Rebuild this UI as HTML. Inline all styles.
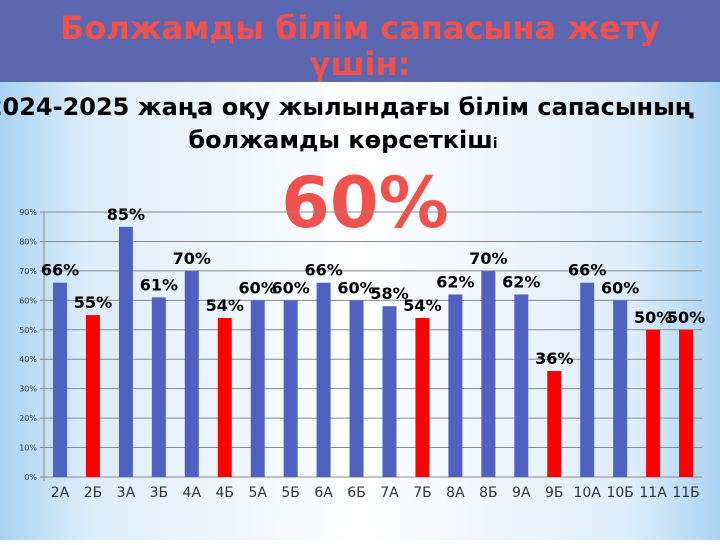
<!DOCTYPE html>
<html><head><meta charset="utf-8"><style>
body{margin:0;width:720px;height:540px;overflow:hidden;}
</style></head><body>
<svg width="720" height="540" xmlns="http://www.w3.org/2000/svg" font-family="DejaVu Sans, Liberation Sans, sans-serif">
<defs>
<linearGradient id="bg" x1="0" x2="1" y1="0" y2="0">
<stop offset="0" stop-color="#a9d3f2"/><stop offset="0.12" stop-color="#dcedfa"/>
<stop offset="0.5" stop-color="#ffffff"/><stop offset="0.88" stop-color="#dcedfa"/><stop offset="1" stop-color="#a9d3f2"/>
</linearGradient>
</defs>
<rect width="720" height="540" fill="url(#bg)"/>
<rect width="720" height="82" fill="#5b68b0"/>
<text x="360" y="39" text-anchor="middle" font-size="32" font-weight="bold" fill="#f0514c">Болжамды білім сапасына жету</text>
<text x="360" y="75" text-anchor="middle" font-size="32" font-weight="bold" fill="#f0514c">үшін:</text>
<text x="340" y="115" text-anchor="middle" font-size="24" font-weight="bold" fill="#000">2024-2025 жаңа оқу жылындағы білім сапасының</text>
<text x="343" y="148" text-anchor="middle" font-size="24" font-weight="bold" fill="#000">болжамды көрсеткіш<tspan font-size="14">і</tspan></text>
<text x="365" y="227" text-anchor="middle" font-size="70" font-weight="bold" fill="#f0514c">60%</text>
<g stroke="#8a8a8a" stroke-width="1">
<line x1="40" x2="702" y1="477" y2="477"/><line x1="40" x2="702" y1="447.56" y2="447.56"/>
<line x1="40" x2="702" y1="418.12" y2="418.12"/><line x1="40" x2="702" y1="388.68" y2="388.68"/>
<line x1="40" x2="702" y1="359.24" y2="359.24"/><line x1="40" x2="702" y1="329.8" y2="329.8"/>
<line x1="40" x2="702" y1="300.36" y2="300.36"/><line x1="40" x2="702" y1="270.92" y2="270.92"/>
<line x1="40" x2="702" y1="241.48" y2="241.48"/><line x1="40" x2="702" y1="212.04" y2="212.04"/>
<line x1="44" x2="44" y1="212" y2="481"/>
</g>
<g font-size="8" fill="#333" text-anchor="end">
<text x="37" y="480">0%</text><text x="37" y="450.5">10%</text><text x="37" y="421">20%</text>
<text x="37" y="391.7">30%</text><text x="37" y="362.2">40%</text><text x="37" y="332.8">50%</text>
<text x="37" y="303.4">60%</text><text x="37" y="273.9">70%</text><text x="37" y="244.5">80%</text>
<text x="37" y="215">90%</text>
</g>
<g>
<rect x="53" y="282.7" width="14" height="194.3" fill="#4f62c2"/>
<rect x="85.95" y="315.1" width="14" height="161.9" fill="#ff0000"/>
<rect x="118.9" y="226.8" width="14" height="250.2" fill="#4f62c2"/>
<rect x="151.85" y="297.4" width="14" height="179.6" fill="#4f62c2"/>
<rect x="184.8" y="270.9" width="14" height="206.1" fill="#4f62c2"/>
<rect x="217.75" y="318" width="14" height="159" fill="#ff0000"/>
<rect x="250.7" y="300.4" width="14" height="176.6" fill="#4f62c2"/>
<rect x="283.65" y="300.4" width="14" height="176.6" fill="#4f62c2"/>
<rect x="316.6" y="282.7" width="14" height="194.3" fill="#4f62c2"/>
<rect x="349.55" y="300.4" width="14" height="176.6" fill="#4f62c2"/>
<rect x="382.5" y="306.2" width="14" height="170.8" fill="#4f62c2"/>
<rect x="415.45" y="318" width="14" height="159" fill="#ff0000"/>
<rect x="448.4" y="294.5" width="14" height="182.5" fill="#4f62c2"/>
<rect x="481.35" y="270.9" width="14" height="206.1" fill="#4f62c2"/>
<rect x="514.3" y="294.5" width="14" height="182.5" fill="#4f62c2"/>
<rect x="547.25" y="371" width="14" height="106" fill="#ff0000"/>
<rect x="580.2" y="282.7" width="14" height="194.3" fill="#4f62c2"/>
<rect x="613.15" y="300.4" width="14" height="176.6" fill="#4f62c2"/>
<rect x="646.1" y="329.8" width="14" height="147.2" fill="#ff0000"/>
<rect x="679.05" y="329.8" width="14" height="147.2" fill="#ff0000"/>
</g>
<g font-size="16" font-weight="bold" fill="#000" text-anchor="middle">
<text x="60" y="275.7">66%</text><text x="92.95" y="308.1">55%</text><text x="125.9" y="219.8">85%</text>
<text x="158.85" y="290.4">61%</text><text x="191.8" y="263.9">70%</text><text x="224.75" y="311">54%</text>
<text x="257.7" y="293.4">60%</text><text x="290.65" y="293.4">60%</text><text x="323.6" y="275.7">66%</text>
<text x="356.55" y="293.4">60%</text><text x="389.5" y="299.2">58%</text><text x="422.45" y="311">54%</text>
<text x="455.4" y="287.5">62%</text><text x="488.35" y="263.9">70%</text><text x="521.3" y="287.5">62%</text>
<text x="554.25" y="364">36%</text><text x="587.2" y="275.7">66%</text><text x="620.15" y="293.4">60%</text>
<text x="653.1" y="322.8">50%</text><text x="686.05" y="322.8">50%</text>
</g>
<g font-size="14" fill="#333" text-anchor="middle">
<text x="60" y="497">2А</text><text x="92.95" y="497">2Б</text><text x="125.9" y="497">3А</text>
<text x="158.85" y="497">3Б</text><text x="191.8" y="497">4А</text><text x="224.75" y="497">4Б</text>
<text x="257.7" y="497">5А</text><text x="290.65" y="497">5Б</text><text x="323.6" y="497">6А</text>
<text x="356.55" y="497">6Б</text><text x="389.5" y="497">7А</text><text x="422.45" y="497">7Б</text>
<text x="455.4" y="497">8А</text><text x="488.35" y="497">8Б</text><text x="521.3" y="497">9А</text>
<text x="554.25" y="497">9Б</text><text x="587.2" y="497">10А</text><text x="620.15" y="497">10Б</text>
<text x="653.1" y="497">11А</text><text x="686.05" y="497">11Б</text>
</g>
</svg>
</body></html>
